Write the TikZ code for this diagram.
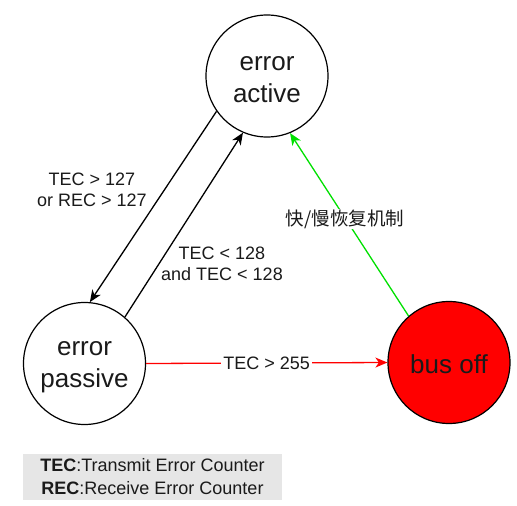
\documentclass[tikz,border=0pt]{standalone}
\usepackage{fontspec}
\setmainfont{Liberation Sans}
\newfontfamily\cjk{Noto Sans CJK SC}
\usetikzlibrary{arrows.meta}
\definecolor{txt}{HTML}{1A1A1A}
\definecolor{lgray}{HTML}{E6E6E6}
\definecolor{gline}{HTML}{00E000}
\definecolor{rline}{HTML}{FF0000}
\tikzset{
  state/.style={draw=black, line width=1.2pt, circle, minimum size=122pt, inner sep=0pt},
  stxt/.style={align=center, font=\fontsize{26}{32}\selectfont, text=txt, yshift=-4pt, inner sep=0pt},
  conn/.style={line width=1.3pt, -{Stealth[length=12pt,width=10pt,inset=3.5pt]}},
  lbl/.style={align=center, font=\fontsize{18}{21}\selectfont, text=txt, inner sep=2pt},
}
\begin{document}
\begin{tikzpicture}[x=1pt,y=-1pt]
\useasboundingbox (0,0) rectangle (517,506);
\node[state, label={[stxt]center:error\\active}] (active) at (267,76) {};
\node[state, label={[stxt]center:error\\passive}] (passive) at (84.5,363.5) {};
\node[state, fill=rline, label={[stxt, yshift=2pt]center:bus off}] (busoff) at (449,362.5) {};

\draw[conn] (active.215) -- (passive.85);
\draw[conn] (passive.49) -- (active.247);
\draw[conn, draw=gline, -{Stealth[length=12pt,width=10pt,inset=3.5pt, fill=gline]}] (busoff.131) -- (active.292);
\draw[conn, draw=rline] (passive.east) -- node[lbl, fill=white] (l255) {TEC > 255} (busoff.west);

\node[lbl] (l127) at (92,190) {TEC > 127\\or REC > 127};
\node[lbl] (l128) at (222,264) {TEC < 128\\and TEC < 128};
\node[lbl, fill=white, font=\fontsize{18.5}{21}\selectfont\cjk, inner sep=1pt] (lcn) at (345,219) {快/慢恢复机制};

\node[fill=lgray, minimum width=259pt, minimum height=46pt, align=center,
  font=\fontsize{18}{23}\selectfont, text=txt] (legend) at (152.5,477)
  {\textbf{TEC}:Transmit Error Counter\\\textbf{REC}:Receive Error Counter};
\end{tikzpicture}
\end{document}
